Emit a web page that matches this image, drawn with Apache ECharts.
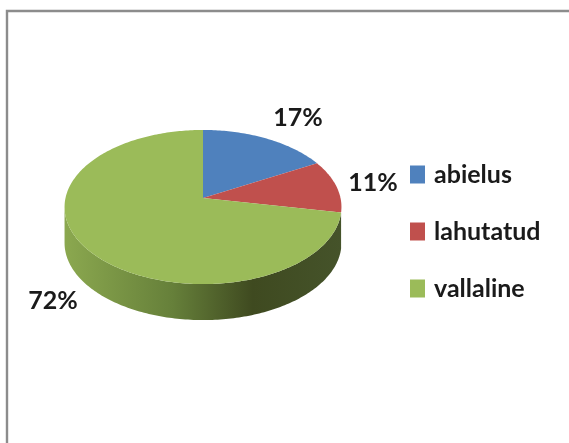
<!DOCTYPE html>
<html>
<head>
<meta charset="utf-8">
<style>
  html, body { margin: 0; padding: 0; background: #fff; }
  #chart { width: 569px; height: 443px; }
</style>
<script src="https://cdn.jsdelivr.net/npm/echarts@6/dist/echarts.min.js"></script>
</head>
<body>
<div id="chart"></div>
<script>
const categories = ["abielus", "lahutatud", "vallaline"];
const shares = [17, 11, 72];
const sliceColors = ["#4f81bd", "#c0504d", "#9bbb59"];

// tilted disc look, ECharts has no 3D pie so this is a custom series
const disc = { cx: 203, cy: 198, a: 137.5, b: 76, k: 0.117, depth: 36 };
const labelAt = [[298, 118], [373, 183], [53, 301]];
const wallFrom = 96.7, wallTo = 263.3;

function project(deg) {
	let t = deg * Math.PI / 180;
	let x = Math.sin(t), y = Math.cos(t);
	let d = 1 + disc.k * y;
	return [disc.cx + disc.a * x / d, disc.cy - disc.b * y / d];
}

function arcPoints(from, to) {
	let pts = [];
	let steps = Math.max(2, Math.ceil(Math.abs(to - from)));
	for (let i = 0; i <= steps; i++) {
		pts.push(project(from + (to - from) * i / steps));
	}
	return pts;
}

function renderSlice(params, api) {
	let idx = params.seriesIndex;
	let total = shares.reduce((s, v) => s + v, 0);
	let before = shares.slice(0, idx).reduce((s, v) => s + v, 0);
	let start = before / total * 360;
	let end = start + api.value(0) / total * 360;
	let children = [];

	// only the last slice shows its side in this view
	if (idx === shares.length - 1) {
		let top = arcPoints(Math.max(start, wallFrom), Math.min(end, wallTo));
		let bottom = top.map(p => [p[0], p[1] + disc.depth]).reverse();
		children.push({
			type: "polygon",
			shape: { points: top.concat(bottom) },
			style: {
				fill: new echarts.graphic.LinearGradient(0, 0, 1, 0, [
					{ offset: 0, color: "#8ba84f" },
					{ offset: 0.39, color: "#66803a" },
					{ offset: 0.68, color: "#3f4a20" },
					{ offset: 1, color: "#45532a" }
				])
			}
		});
	}
	children.push({
		type: "polygon",
		shape: { points: [[disc.cx, disc.cy]].concat(arcPoints(start, end)) },
		style: { fill: sliceColors[idx] }
	});
	children.push({
		type: "text",
		style: {
			x: labelAt[idx][0],
			y: labelAt[idx][1],
			text: api.value(0) + "%",
			fill: "#1a1a1a",
			font: "bold 25px Lato",
			align: "center",
			verticalAlign: "middle"
		}
	});
	return { type: "group", children: children };
}

let chart = echarts.init(document.getElementById("chart"));
chart.setOption({
	animation: false,
	backgroundColor: "#ffffff",
	graphic: [
		{
			type: "rect",
			z: -1,
			shape: { x: 7, y: 11, width: 640, height: 520 },
			style: { fill: "#ffffff", stroke: "#8c8c8c", lineWidth: 2.4 }
		}
	],
	legend: {
		data: categories,
		orient: "vertical",
		left: 410,
		top: 162,
		padding: 0,
		itemWidth: 15,
		itemHeight: 18,
		itemGap: 32,
		icon: "rect",
		selectedMode: false,
		textStyle: {
			fontFamily: "Lato",
			fontWeight: "bold",
			fontSize: 25,
			color: "#1a1a1a",
			padding: [0, 0, 0, 4]
		}
	},
	series: categories.map((name, i) => ({
		type: "custom",
		name: name,
		coordinateSystem: "none",
		itemStyle: { color: sliceColors[i] },
		data: [[shares[i]]],
		renderItem: renderSlice
	}))
});
</script>
</body>
</html>
